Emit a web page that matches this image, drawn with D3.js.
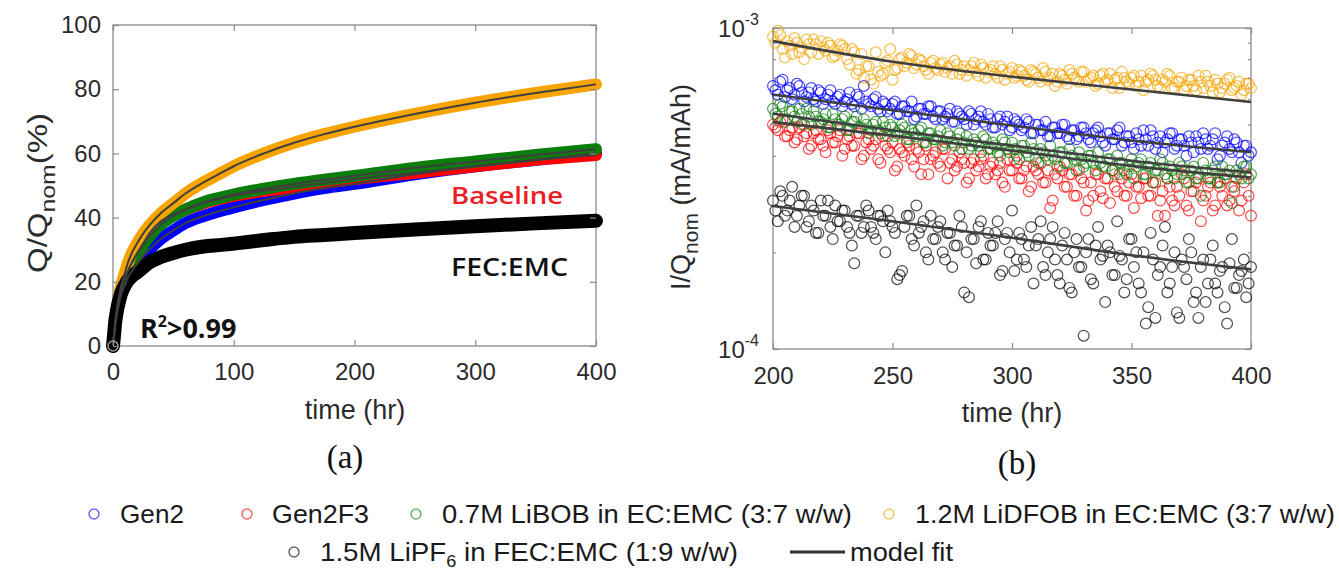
<!DOCTYPE html>
<html><head><meta charset="utf-8">
<script src="https://cdn.jsdelivr.net/npm/d3@7"></script>
<style>body{margin:0;background:#fff}svg{display:block}</style>
</head><body>
<svg id="c" width="1339" height="572"></svg>
<script>
// ---------- DATA ----------
const seriesNames = ["Gen2","Gen2F3","0.7M LiBOB in EC:EMC (3:7 w/w)","1.2M LiDFOB in EC:EMC (3:7 w/w)","1.5M LiPF6 in FEC:EMC (1:9 w/w)"];
const seriesColors = ["#0000ff","#ff0000","#0b7d0b","#f7a400","#000000"];

// Panel (a): capacity Q/Qnom (%) vs time (hr)
const tA = [0,1,2,3,4,5,6,8,10,12,15,20,25,30,40,50,60,75,90,100,125,150,175,200,250,300,350,400];
const qGen2   = [0,3.5,7,9.5,11.5,13,15,17.5,19,21,23,25.5,28,30,33.5,36,38.3,40.5,42.2,43.2,45.5,47.5,49.2,50.5,53.5,56,58,60];
const qGen2F3 = [0,4,7.5,10.5,12.5,14.5,16.5,19,21,23,25.5,29,32,35,39,41,42.5,44.5,46,46.8,48.3,49.5,50.8,52,54,56,58,59.5];
const qLiBOB  = [0,4,7.5,10.5,12.5,14.5,16.5,19,21,23,25.5,28.5,31.5,34,38,40.5,42.5,44.8,46.3,47.2,49,50.5,51.8,53,55.5,57.5,59.5,61.3];
const qLiDFOB = [0,4,8,11,13.5,15.5,17.5,20.5,23,25.5,28.5,32,35,37.5,41.5,44.5,47.5,51,54,56,60,63.3,66,68.3,72.3,75.8,78.8,81.5];
const qFEC    = [0,4,8,10.5,12.5,14,15.5,17.5,19,20.3,21.5,23,24.5,26,27.8,29,30,31,31.5,31.9,33,34,34.6,35.2,36.3,37.3,38.2,39];

// Panel (b): I/Qnom (x1e-4 mA/mAh) vs time (hr): even hours 200..400 and odd hours 201..399
const tB  = d3.range(200, 401, 2);
const tB2 = d3.range(201, 400, 2);
const iLiDFOB = [9.4,9.8,8.6,9.1,8.3,9.0,8.7,9.2,8.4,8.9,9.1,8.5,8.8,8.2,8.9,8.6,7.7,8.4,7.4,7.0,7.6,6.7,7.3,7.2,7.9,6.9,7.5,8.1,7.8,8.2,7.7,7.9,7.4,7.8,7.5,7.7,7.3,7.6,7.9,7.2,7.6,7.4,7.8,7.1,7.5,7.3,7.6,7.0,7.4,7.2,7.5,7.1,7.3,6.9,7.4,7.2,6.8,7.3,7.0,6.6,7.2,6.9,7.4,7.0,6.8,7.3,6.9,7.1,6.7,7.2,6.9,6.5,7.0,7.3,6.8,7.0,6.6,7.1,6.8,7.2,6.9,6.5,6.8,7.1,6.5,6.8,6.4,6.9,6.6,7.1,6.5,6.8,6.3,6.7,6.5,6.9,6.4,6.6,6.2,6.7,6.5];
const iLiDFOB2 = [9.0,9.5,8.1,8.8,9.3,8.4,8.0,8.9,9.2,8.3,8.7,9.0,8.1,8.5,8.8,8.0,8.6,7.2,8.3,7.6,6.9,8.4,7.1,7.8,8.6,7.4,8.0,7.6,8.3,7.5,8.0,7.6,7.2,7.9,7.4,7.8,7.5,7.2,7.7,7.4,7.1,7.6,7.3,7.7,7.0,7.4,7.2,7.6,6.9,7.3,7.0,7.4,7.1,6.8,7.3,7.0,7.5,6.9,7.2,6.8,7.1,6.7,7.2,6.9,7.3,6.8,7.0,6.6,7.1,6.8,7.2,6.9,6.5,7.0,6.7,7.1,6.8,6.4,6.9,7.1,6.6,6.9,7.2,6.5,6.8,7.0,6.6,6.9,6.4,6.8,7.1,6.6,6.9,6.3,6.7,7.0,6.5,6.8,6.4,6.7];
const iGen2   = [6.6,6.2,6.9,6.4,6.0,6.7,6.3,6.1,6.5,5.9,6.3,6.0,6.4,5.8,6.2,5.9,6.3,5.7,6.1,6.6,5.8,6.0,5.6,5.9,5.5,5.8,5.4,5.7,5.5,5.9,5.3,5.6,5.4,5.7,5.2,5.5,5.3,5.6,5.1,5.4,5.2,5.5,5.0,5.3,5.1,5.4,4.9,5.2,5.0,5.3,4.9,5.1,4.8,5.2,4.7,5.0,4.8,5.1,4.6,4.9,4.7,5.0,4.5,4.8,4.6,4.9,4.5,4.7,4.9,4.4,4.7,4.5,4.8,4.3,4.6,4.4,4.7,4.3,4.5,4.8,4.2,4.6,4.4,4.7,4.2,4.5,4.3,4.6,4.1,4.4,4.7,4.2,4.5,3.9,4.3,4.6,4.1,4.4,3.8,4.3,4.1];
const iGen2b  = [6.4,6.8,6.1,6.5,6.2,6.6,5.9,6.3,6.0,6.4,5.8,6.2,5.9,6.1,5.7,6.0,5.8,6.2,5.6,5.9,5.7,6.1,5.5,5.8,5.6,5.9,5.4,5.7,5.5,5.2,5.6,5.4,5.7,5.3,5.5,5.2,5.4,5.1,5.5,5.3,5.0,5.4,5.2,5.5,5.0,5.2,4.9,5.3,5.1,4.8,5.2,5.0,4.9,5.1,4.7,5.0,4.8,4.6,4.9,4.7,5.0,4.6,4.8,4.5,4.9,4.7,4.4,4.8,4.6,4.3,4.7,4.5,4.9,4.4,4.6,4.2,4.5,4.8,4.3,4.6,4.4,4.1,4.5,4.7,4.3,4.5,4.0,4.4,4.6,4.2,4.5,4.3,4.7,4.0,4.4,4.2,4.5,4.1,4.3,4.0];
const iLiBOB  = [5.6,5.3,5.7,5.2,5.5,5.1,5.4,5.6,5.0,5.3,5.1,5.4,4.9,5.2,5.0,5.3,4.8,5.1,4.9,5.2,4.7,5.0,4.8,5.1,4.6,4.9,4.7,5.0,4.5,4.8,4.6,4.9,4.4,4.7,4.5,4.8,4.4,4.6,4.3,4.7,4.4,4.2,4.5,4.3,4.6,4.2,4.4,4.1,4.5,4.2,4.4,4.0,4.3,4.1,4.4,3.9,4.2,4.0,4.3,3.9,4.1,3.8,4.2,3.9,4.1,3.7,4.0,3.8,4.1,3.7,3.9,3.6,4.0,3.8,3.5,3.9,3.7,3.9,3.5,3.8,3.6,3.9,3.5,3.7,3.4,3.8,3.6,3.3,3.7,3.5,3.8,3.4,3.6,3.3,3.7,3.5,2.85,3.6,3.4,3.7,3.5];
const iLiBOB2 = [5.4,5.8,5.1,5.5,5.3,5.6,5.0,5.3,5.5,5.1,5.2,4.9,5.4,5.0,5.2,4.8,5.1,5.3,4.9,5.0,4.8,5.1,4.7,4.9,5.0,4.6,4.8,4.9,4.5,4.7,4.8,4.4,4.7,4.5,4.6,4.3,4.7,4.4,4.5,4.2,4.6,4.3,4.4,4.1,4.5,4.2,4.3,4.0,4.4,4.1,4.2,3.9,4.3,4.0,4.2,3.8,4.1,3.9,4.0,3.7,4.1,3.8,4.0,3.6,3.9,3.8,4.0,3.6,3.8,3.7,3.9,3.5,3.8,3.6,3.7,3.4,3.8,3.5,3.7,3.3,3.6,3.8,3.4,3.6,3.5,3.7,3.3,3.6,3.4,3.0,3.6,3.4,3.7,3.3,3.5,3.6,3.2,3.5,3.7,3.4];
const iGen2F3 = [5.0,4.8,5.2,4.6,4.9,4.5,5.0,4.7,4.3,4.8,4.5,4.1,4.7,4.4,4.8,4.2,4.6,4.3,4.7,4.0,4.5,4.3,3.9,4.6,4.2,4.4,3.7,4.1,4.4,3.9,4.2,3.5,4.3,3.9,4.1,3.7,4.2,3.8,3.6,4.1,3.8,3.4,3.9,3.7,4.0,3.5,3.8,3.6,3.3,3.9,3.6,3.8,3.4,3.7,3.2,3.6,3.8,3.3,2.75,3.5,3.7,3.2,3.5,3.0,3.6,3.3,2.9,3.0,3.5,2.95,3.4,3.6,3.1,3.4,3.0,3.5,3.2,2.95,3.4,3.0,3.3,2.9,2.6,3.2,2.8,3.0,3.4,2.7,3.1,3.4,2.9,3.2,2.7,3.3,3.0,2.8,3.2,3.4,2.9,3.5,2.6];
const iGen2F3b = [4.9,5.1,4.6,4.8,4.4,4.9,4.6,4.2,4.7,4.5,4.3,4.8,4.4,4.6,4.0,4.5,4.3,4.7,3.9,4.4,4.2,4.5,3.8,4.3,4.1,3.6,4.2,4.0,4.3,3.7,4.1,3.9,3.5,4.0,3.8,4.2,3.4,3.9,3.7,3.9,3.3,3.8,3.6,3.9,3.4,3.7,3.5,3.8,3.2,3.6,3.9,3.4,3.6,3.1,3.7,3.5,3.3,3.6,2.9,3.4,3.6,3.2,3.5,3.0,3.4,2.7,3.3,3.5,3.1,3.4,2.85,3.2,3.5,3.0,3.3,2.75,3.2,3.4,3.0,3.3,2.6,3.1,3.4,2.9,3.2,3.5,2.8,3.1,3.3,2.5,3.0,3.3,2.8,3.2,3.4,2.9,3.1,2.7,3.3,3.0];
const iFEC    = [2.9,2.5,3.0,2.7,3.2,2.6,3.0,2.4,2.8,2.3,2.9,2.6,2.4,2.8,2.5,2.7,2.3,1.85,2.6,2.4,2.7,2.3,2.6,2.5,2.7,2.4,1.65,1.75,2.6,2.2,2.8,2.4,2.0,2.6,2.2,2.5,1.9,2.3,2.1,2.6,1.5,1.45,2.2,2.4,1.9,2.3,2.1,2.5,1.75,2.3,2.7,1.9,2.2,1.8,2.4,2.1,2.5,1.7,2.2,1.9,1.6,2.3,1.55,2.0,1.8,1.1,2.2,1.6,2.4,1.95,2.1,1.7,2.5,1.9,1.65,2.2,2.0,1.5,1.2,2.3,1.25,1.8,2.4,1.6,2.0,1.25,1.8,2.2,1.4,1.25,1.9,1.6,2.1,1.5,1.8,1.2,2.2,1.55,1.75,1.45,1.8];
const iFEC2   = [2.7,3.1,2.6,2.9,2.4,2.8,3.0,2.5,2.7,2.3,2.6,2.9,2.2,2.5,2.7,2.4,2.1,2.6,2.3,2.8,2.4,2.2,2.6,2.0,2.5,2.3,1.7,2.4,2.6,2.1,2.3,2.5,1.9,2.2,2.4,2.0,2.3,1.8,2.1,2.4,2.0,2.2,1.85,2.5,1.9,2.1,2.3,1.7,2.2,2.0,1.75,2.3,1.9,2.1,1.6,2.2,1.8,2.0,2.4,1.7,2.1,1.9,1.5,2.2,1.8,2.0,1.65,2.1,1.9,1.4,2.0,1.7,1.95,1.5,2.2,1.8,1.6,2.0,1.35,1.9,1.7,2.1,1.5,1.8,1.3,1.9,1.65,2.0,1.5,1.8,1.4,1.9,1.6,1.75,1.35,1.85,1.55,1.7,1.9,1.6];

// Panel (b) model fits (x1e-4)
const tFit = [200,250,300,350,400];
const fGen2   = [6.2,5.54,4.97,4.46,4.1];
const fGen2F3 = [5.09,4.62,4.15,3.72,3.42];
const fLiBOB  = [5.41,4.8,4.3,3.86,3.55];
const fLiDFOB = [9.1,7.85,7.05,6.43,5.88];
const fFEC    = [2.79,2.5,2.22,1.96,1.77];

const xTicksA = [0,100,200,300,400];
const yTicksA = [0,20,40,60,80,100];
const xTicksB = [200,250,300,350,400];
const yTicksB = [1e-4,1e-3];
const yMinorB = [2e-4,3e-4,4e-4,5e-4,6e-4,7e-4,8e-4,9e-4];

// ---------- DRAW ----------
const svg = d3.select("#c");
const FONT = "'Liberation Sans', Arial, sans-serif";
const AX = "#8a8a8a", TXT = "#2b2b2b", FIT = "#3f3f3f";
const TICKFS = "24px", TITLEFS = "27px";

// ===== Panel (a) =====
const xA = d3.scaleLinear().domain([0,400]).range([113,596]);
const yA = d3.scaleLinear().domain([0,100]).range([346,25]);
const gA = svg.append("g");
gA.append("rect").attr("x",113).attr("y",25).attr("width",596-113).attr("height",346-25)
  .attr("fill","#fff").attr("stroke",AX).attr("stroke-width",1.3);

const qSeries = [qGen2, qGen2F3, qLiBOB, qLiDFOB, qFEC];
const lineA = vals => d3.line().x((d,i)=>xA(tA[i])).y(d=>yA(d)).curve(d3.curveMonotoneX)(vals);
[0,1,2,3,4].forEach(k=>{
  gA.append("path").attr("d", lineA(qSeries[k])).attr("fill","none")
    .attr("stroke", seriesColors[k]).attr("stroke-width", k===4?14:12).attr("stroke-linecap","round");
  gA.selectAll(null).data(qSeries[k]).enter().append("circle")
    .attr("cx",(d,i)=>xA(tA[i])).attr("cy",d=>yA(d)).attr("r",4.5)
    .attr("fill","none").attr("stroke",seriesColors[k]).attr("stroke-width",1.5);
});
[0,1,2,3].forEach(k=>{
  gA.append("path").attr("d", lineA(qSeries[k])).attr("fill","none")
    .attr("stroke", FIT).attr("stroke-width", 2);
});
gA.append("circle").attr("cx",xA(0)).attr("cy",yA(0)).attr("r",5).attr("fill","none").attr("stroke","#999").attr("stroke-width",1.5);

function styleAxis(g){
  g.select(".domain").remove();
  g.selectAll(".tick line").attr("stroke",AX).attr("stroke-width",1.2);
  g.selectAll(".tick text").attr("fill",TXT).style("font-family",FONT).style("font-size",TICKFS);
}
gA.append("g").attr("transform","translate(0,346)")
  .call(d3.axisBottom(xA).tickValues(xTicksA).tickSizeInner(-6).tickSizeOuter(0).tickPadding(17))
  .call(styleAxis);
gA.append("g").attr("transform","translate(0,25)")
  .call(d3.axisTop(xA).tickValues(xTicksA).tickSizeInner(-6).tickSizeOuter(0).tickFormat(""))
  .call(styleAxis);
gA.append("g").attr("transform","translate(113,0)")
  .call(d3.axisLeft(yA).tickValues(yTicksA).tickSizeInner(-6).tickSizeOuter(0).tickPadding(12))
  .call(styleAxis);
gA.append("g").attr("transform","translate(596,0)")
  .call(d3.axisRight(yA).tickValues(yTicksA).tickSizeInner(-6).tickSizeOuter(0).tickFormat(""))
  .call(styleAxis);

gA.append("text").attr("x",355).attr("y",419).attr("text-anchor","middle")
  .attr("fill",TXT).style("font-family",FONT).style("font-size",TITLEFS).text("time (hr)");
const yl = gA.append("text").attr("transform","translate(47,193) rotate(-90)").attr("text-anchor","middle")
  .attr("fill",TXT).style("font-family",FONT).style("font-size","28px")
  .attr("textLength",160).attr("lengthAdjust","spacingAndGlyphs");
yl.append("tspan").text("Q/Q");
yl.append("tspan").attr("dy",8).style("font-size","21px").text("nom");
yl.append("tspan").attr("dy",-8).text("(%)");

gA.append("text").attr("x",451).attr("y",204).attr("fill","#ee1c24").style("font-weight","600")
  .style("font-family","'Open Sans', sans-serif").style("font-size","24px")
  .attr("textLength",112).attr("lengthAdjust","spacingAndGlyphs").text("Baseline");
gA.append("text").attr("x",451).attr("y",276).attr("fill","#111").style("font-weight","600")
  .style("font-family","'Open Sans', sans-serif").style("font-size","25px")
  .attr("textLength",117).attr("lengthAdjust","spacingAndGlyphs").text("FEC:EMC");
const r2 = gA.append("text").attr("x",140).attr("y",338).attr("fill","#111").style("font-weight","bold")
  .style("font-family","'Open Sans', sans-serif").style("font-size","27px");
r2.append("tspan").text("R");
r2.append("tspan").attr("dy",-11).style("font-size","16px").text("2");
r2.append("tspan").attr("dy",11).text(">0.99");

svg.append("text").attr("x",345).attr("y",468).attr("text-anchor","middle").attr("fill","#111")
  .style("font-family","'Liberation Serif', 'Times New Roman', serif").style("font-size","33px").text("(a)");

// ===== Panel (b) =====
const xB = d3.scaleLinear().domain([200,400]).range([773,1251]);
const yB = d3.scaleLog().domain([1e-4,1e-3]).range([349,28]);
const gB = svg.append("g");
gB.append("rect").attr("x",773).attr("y",28).attr("width",1251-773).attr("height",349-28)
  .attr("fill","#fff").attr("stroke",AX).attr("stroke-width",1.3);

const iSeries  = [iGen2, iGen2F3, iLiBOB, iLiDFOB, iFEC];
const iSeries2 = [iGen2b, iGen2F3b, iLiBOB2, iLiDFOB2, iFEC2];
const fSeries = [fGen2, fGen2F3, fLiBOB, fLiDFOB, fFEC];
[3,0,1,2,4].forEach(k=>{
  const pts = iSeries[k].map((v,i)=>[tB[i],v]).concat(iSeries2[k].map((v,i)=>[tB2[i],v]));
  gB.selectAll(null).data(pts).enter().append("circle")
    .attr("cx",d=>xB(d[0])).attr("cy",d=>yB(d[1]*1e-4)).attr("r",5.4)
    .attr("fill","none").attr("stroke",seriesColors[k]).attr("stroke-width",1.2).attr("stroke-opacity",0.7);
});
const lineB = vals => d3.line().x((d,i)=>xB(tFit[i])).y(d=>yB(d*1e-4)).curve(d3.curveMonotoneX)(vals);
fSeries.forEach(f=>{
  gB.append("path").attr("d",lineB(f)).attr("fill","none").attr("stroke",FIT).attr("stroke-width",2.6);
});

gB.append("g").attr("transform","translate(0,349)")
  .call(d3.axisBottom(xB).tickValues(xTicksB).tickSizeInner(-6).tickSizeOuter(0).tickPadding(18))
  .call(styleAxis);
gB.append("g").attr("transform","translate(0,28)")
  .call(d3.axisTop(xB).tickValues(xTicksB).tickSizeInner(-6).tickSizeOuter(0).tickFormat(""))
  .call(styleAxis);
gB.append("g").attr("transform","translate(773,0)")
  .call(d3.axisLeft(yB).tickValues(yTicksB).tickSizeInner(-6).tickSizeOuter(0).tickFormat(""))
  .call(styleAxis);
gB.append("g").attr("transform","translate(773,0)")
  .call(d3.axisLeft(yB).tickValues(yMinorB).tickSizeInner(-3).tickSizeOuter(0).tickFormat(""))
  .call(styleAxis);
gB.append("g").attr("transform","translate(1251,0)")
  .call(d3.axisRight(yB).tickValues(yTicksB).tickSizeInner(-6).tickSizeOuter(0).tickFormat(""))
  .call(styleAxis);
gB.append("g").attr("transform","translate(1251,0)")
  .call(d3.axisRight(yB).tickValues(yMinorB).tickSizeInner(-3).tickSizeOuter(0).tickFormat(""))
  .call(styleAxis);
yTicksB.forEach(v=>{
  const t = gB.append("text").attr("x",759).attr("y",yB(v)+9).attr("text-anchor","end")
    .attr("fill",TXT).style("font-family",FONT).style("font-size",TICKFS);
  t.append("tspan").text("10");
  t.append("tspan").attr("dy",-12).style("font-size","16px").text(String(Math.round(Math.log10(v))));
});

gB.append("text").attr("x",1012).attr("y",422).attr("text-anchor","middle")
  .attr("fill",TXT).style("font-family",FONT).style("font-size",TITLEFS).text("time (hr)");
const yl2 = gB.append("text").attr("transform","translate(690,187) rotate(-90)").attr("text-anchor","middle")
  .attr("fill",TXT).style("font-family",FONT).style("font-size","27px");
yl2.append("tspan").text("I/Q");
yl2.append("tspan").attr("dy",8).style("font-size","21px").text("nom");
yl2.append("tspan").attr("dy",-8).text("\u00a0(mA/mAh)");

svg.append("text").attr("x",1017).attr("y",474).attr("text-anchor","middle").attr("fill","#111")
  .style("font-family","'Liberation Serif', 'Times New Roman', serif").style("font-size","33px").text("(b)");

// ===== Legend =====
const leg = svg.append("g").style("font-family",FONT).attr("fill","#1a1a1a");
const legItems = [
  {k:0, cx:94,  cy:514, tx:120, w:64},
  {k:1, cx:247, cy:514, tx:272, w:97},
  {k:2, cx:416, cy:514, tx:442, w:410},
  {k:3, cx:889, cy:514, tx:915, w:420},
  {k:4, cx:294, cy:552, tx:320, w:418}
];
legItems.forEach(it=>{
  leg.append("circle").attr("cx",it.cx).attr("cy",it.cy).attr("r",5).attr("fill","none")
    .attr("stroke",seriesColors[it.k]).attr("stroke-opacity",0.6).attr("stroke-width",1.5);
  const t = leg.append("text").attr("x",it.tx).attr("y",it.cy+9).style("font-size","26px")
    .attr("textLength",it.w).attr("lengthAdjust","spacingAndGlyphs");
  const name = seriesNames[it.k];
  if (name.includes("LiPF6")) {
    t.append("tspan").text("1.5M LiPF");
    t.append("tspan").attr("dy",6).style("font-size","17px").text("6");
    t.append("tspan").attr("dy",-6).text(" in FEC:EMC (1:9 w/w)");
  } else {
    t.text(name);
  }
});
leg.append("line").attr("x1",790).attr("x2",845).attr("y1",552).attr("y2",552).attr("stroke","#333").attr("stroke-width",3);
leg.append("text").attr("x",850).attr("y",561).style("font-size","26px")
  .attr("textLength",103).attr("lengthAdjust","spacingAndGlyphs").text("model fit");
</script>
</body></html>
